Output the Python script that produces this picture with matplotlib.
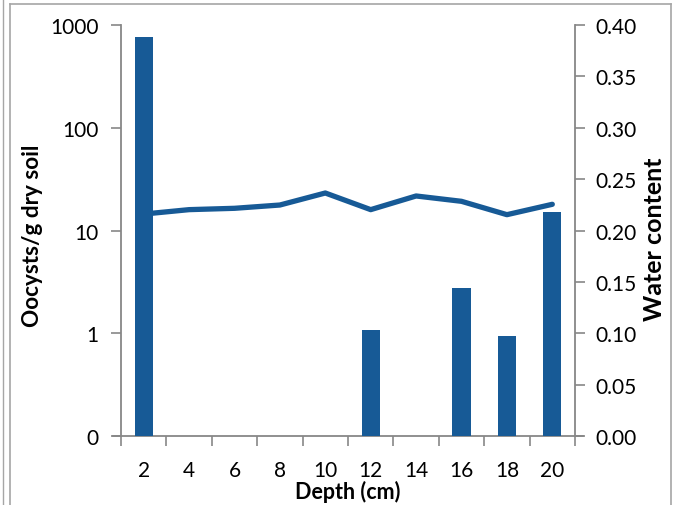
import matplotlib
matplotlib.use("Agg")
import matplotlib.pyplot as plt
from matplotlib.lines import Line2D
from matplotlib.ticker import FixedLocator, NullLocator

depths = [2, 4, 6, 8, 10, 12, 14, 16, 18, 20]
oocysts = [764, 0, 0, 0, 0, 1.07, 0, 2.74, 0.935, 15.3]
water = [0.216, 0.2203, 0.2216, 0.2248, 0.2365, 0.2203, 0.2336, 0.2284, 0.2154, 0.2255]
left_ticks = [0.1, 1, 10, 100, 1000]
left_labels = ["0", "1", "10", "100", "1000"]
right_ticks = [0, 0.05, 0.10, 0.15, 0.20, 0.25, 0.30, 0.35, 0.40]

blue = "#175a96"
grey = "#878787"
plt.rcParams['font.family'] = ['Lato', 'DejaVu Sans']

W, H = 674, 506
fig = plt.figure(figsize=(W/100, H/100), dpi=100)
x0, x1, y0, y1 = 121, 575, 26, 437
ax = fig.add_axes([x0/W, 1-y1/H, (x1-x0)/W, (y1-y0)/H])
ax2 = ax.twinx()

pos = list(range(len(depths)))
base = 0.1
ax.set_yscale('log')
ax.set_ylim(base, 1000)
ax.set_xlim(-0.5, len(depths)-0.5)

ax2.plot(pos, water, color=blue, lw=3.8, solid_capstyle='round', zorder=1)
ax2.set_ylim(0, 0.4)
ax2.set_yticks(right_ticks)
ax2.set_yticklabels([f"{t:.2f}" for t in right_ticks])

ax.set_zorder(ax2.get_zorder()+1)
ax.patch.set_visible(False)
bpos = [p for p, v in zip(pos, oocysts) if v > 0]
bh = [v - base for v in oocysts if v > 0]
ax.bar(bpos, bh, width=0.4, bottom=base, color=blue, zorder=3)

ax.yaxis.set_major_locator(FixedLocator(left_ticks))
ax.yaxis.set_minor_locator(NullLocator())
ax.set_yticklabels(left_labels)

ax.set_xticks(pos)
ax.set_xticklabels([str(d) for d in depths])
ax.set_xticks([p+0.5 for p in [-1] + pos], minor=True)
ax.tick_params(axis='x', which='major', length=0, pad=17, labelsize=15)
ax.tick_params(axis='x', which='minor', length=7, width=1.2, color=grey, direction='out')
ax.tick_params(axis='y', length=7, width=1.2, color=grey, labelsize=15, pad=9)
ax2.tick_params(axis='y', length=7, width=1.2, color=grey, labelsize=15, pad=8)

for a in (ax, ax2):
    for s in a.spines.values():
        s.set_visible(False)
ax.spines['left'].set_visible(True)
ax.spines['left'].set_color(grey)
ax.spines['left'].set_linewidth(1.3)
ax2.spines['right'].set_visible(True)
ax2.spines['right'].set_color(grey)
ax2.spines['right'].set_linewidth(1.3)
ax.spines['bottom'].set_visible(True)
ax.spines['bottom'].set_color(grey)
ax.spines['bottom'].set_linewidth(1.3)
ax.spines['bottom'].set_bounds(-0.5 - 8/45.4, len(depths)-0.5 + 8/45.4)

ax.set_xlabel("Depth (cm)", fontsize=15.5, fontweight='bold', labelpad=0)
ax.set_ylabel("Oocysts/g dry soil", fontsize=16.2, fontweight='bold')
ax.yaxis.set_label_coords(-0.172, 0.49)
ax2.set_ylabel("Water content", fontsize=18, fontweight='bold')
ax2.yaxis.set_label_coords(1.15, 0.48)

fig.add_artist(Line2D([10/W, 10/W], [0, 1-5/H], color="#a6a6a6", lw=1.2))
fig.add_artist(Line2D([10/W, 671/W], [1-5/H, 1-5/H], color="#a6a6a6", lw=1.2))
fig.add_artist(Line2D([671/W, 671/W], [0, 1-5/H], color="#a6a6a6", lw=1.2))
fig.add_artist(Line2D([3/W, 3/W], [0, 1], color="#a6a6a6", lw=1.0))

fig.savefig("out.png", dpi=100)
